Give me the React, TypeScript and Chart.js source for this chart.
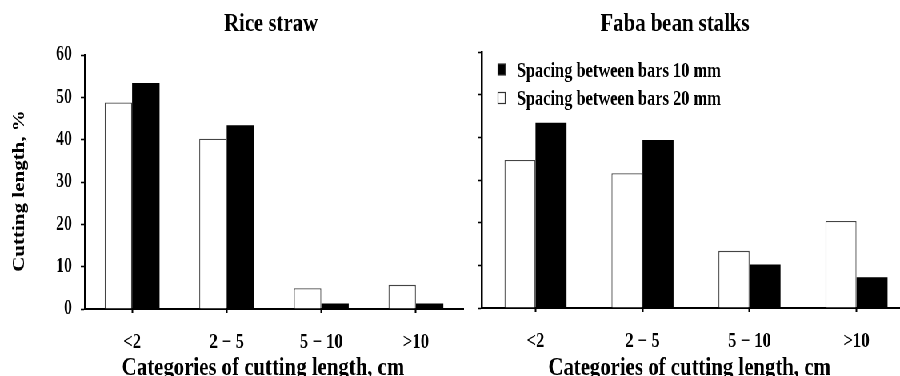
import { useEffect, useRef } from 'react';
import { Chart, registerables } from 'chart.js';

Chart.register(...registerables);

// ---- data ----
const categories = ['<2', '2 − 5', '5 − 10', '>10'];
const seriesLabels = ['Spacing between bars 20 mm', 'Spacing between bars 10 mm'];
const riceStraw20 = [48.8, 40.2, 4.9, 5.7];
const riceStraw10 = [53.4, 43.4, 1.3, 1.3];
const fabaStalks20 = [34.7, 31.6, 13.4, 20.4];
const fabaStalks10 = [43.4, 39.4, 10.2, 7.2];
const yMin = 0;
const yMax = 60;
const yStep = 10;

const panelTitles = ['Rice straw', 'Faba bean stalks'];
const xTitle = 'Categories of cutting length, cm';
const yTitle = 'Cutting length, %';

// the figure is drawn wide and narrowed horizontally, giving condensed lettering
const SQUEEZE = 0.8;
const CANVAS_H = 400;
const FONT = '"Liberation Serif", "Times New Roman", serif';

Chart.defaults.font.family = FONT;
Chart.defaults.color = '#000';

type Caption = { text: string; x: number; y: number; size: number; rotate?: boolean };

function captionPlugin(items: Caption[]) {
  return {
    id: 'captions',
    afterDraw(chart: Chart) {
      const ctx = chart.ctx;
      for (const c of items) {
        ctx.save();
        ctx.font = `bold ${c.size}px ${FONT}`;
        ctx.fillStyle = '#000';
        ctx.textAlign = 'center';
        ctx.textBaseline = 'alphabetic';
        ctx.translate(c.x, c.y);
        if (c.rotate) ctx.rotate(-Math.PI / 2);
        ctx.fillText(c.text, 0, 0);
        ctx.restore();
      }
    },
  };
}

// series key drawn inside the plot, 10 mm first
function keyPlugin(show: boolean) {
  return {
    id: 'barKey',
    afterDraw(chart: Chart) {
      if (!show) return;
      const ctx = chart.ctx;
      const left = chart.chartArea.left;
      const sets = chart.data.datasets.slice().reverse();
      sets.forEach((d: any, i: number) => {
        const rowY = i * 28.5;
        ctx.save();
        ctx.fillStyle = d.backgroundColor;
        ctx.fillRect(left + 20, 64 + rowY, 9, 11);
        ctx.strokeStyle = '#333';
        ctx.lineWidth = 1.2;
        ctx.strokeRect(left + 20, 64 + rowY, 9, 11);
        ctx.font = `bold 20.5px ${FONT}`;
        ctx.fillStyle = '#000';
        ctx.textAlign = 'left';
        ctx.textBaseline = 'alphabetic';
        ctx.fillText(d.label, left + 43.5, 76.5 + rowY);
        ctx.restore();
      });
    },
  };
}

type PanelProps = {
  left: number;
  width: number;
  white: number[];
  black: number[];
  top: number;
  bottom: number;
  axisX: number;
  padRight: number;
  showYLabels: boolean;
  showKey: boolean;
  captions: Caption[];
};

function Panel(p: PanelProps) {
  const ref = useRef<HTMLCanvasElement>(null);

  useEffect(() => {
    const chart = new Chart(ref.current as HTMLCanvasElement, {
      type: 'bar',
      data: {
        labels: categories,
        datasets: [
          {
            label: seriesLabels[0],
            data: p.white,
            backgroundColor: '#ffffff',
            borderColor: '#444444',
            borderWidth: 1.3,
            categoryPercentage: 0.58,
            barPercentage: 1,
          },
          {
            label: seriesLabels[1],
            data: p.black,
            backgroundColor: '#000000',
            borderColor: '#000000',
            borderWidth: 0,
            categoryPercentage: 0.58,
            barPercentage: 1,
          },
        ],
      },
      options: {
        responsive: false,
        animation: false,
        devicePixelRatio: 1,
        layout: { padding: { top: p.top, right: p.padRight, left: 0, bottom: 0 } },
        plugins: {
          legend: { display: false },
          tooltip: { enabled: false },
          title: { display: false },
        },
        scales: {
          x: {
            grid: {
              offset: false,
              drawOnChartArea: false,
              tickLength: 4,
              tickWidth: 2,
              tickColor: '#000',
            },
            border: { color: '#000', width: 2 },
            ticks: { font: { size: 21, weight: 'bold' }, padding: 17, color: '#000' },
            afterFit: (s: any) => {
              s.height = CANVAS_H - p.bottom;
            },
          },
          y: {
            min: yMin,
            max: yMax,
            grid: {
              drawOnChartArea: false,
              tickLength: 5,
              tickWidth: 1.6,
              tickColor: '#000',
            },
            border: { color: '#000', width: 2.5 },
            ticks: {
              stepSize: yStep,
              font: { size: 20, weight: 'bold' },
              padding: 11,
              color: '#000',
              callback: (v: any) => (p.showYLabels ? String(v) : ''),
            },
            afterFit: (s: any) => {
              s.width = p.axisX;
            },
          },
        },
      },
      plugins: [captionPlugin(p.captions), keyPlugin(p.showKey)],
    } as any);
    return () => chart.destroy();
  }, []);

  return (
    <canvas
      ref={ref}
      width={p.width}
      height={CANVAS_H}
      style={{ position: 'absolute', left: p.left, top: 0, width: p.width, height: CANVAS_H }}
    />
  );
}

export default function App() {
  return (
    <div
      style={{
        position: 'fixed',
        left: 0,
        top: 0,
        width: 900,
        height: 376,
        overflow: 'hidden',
        background: '#fff',
      }}
    >
      <div
        style={{
          position: 'absolute',
          left: 0,
          top: 0,
          width: 1150,
          height: CANVAS_H,
          transform: `scaleX(${SQUEEZE})`,
          transformOrigin: '0 0',
        }}
      >
        <Panel
          left={0}
          width={590}
          white={riceStraw20}
          black={riceStraw10}
          top={55}
          bottom={309}
          axisX={106}
          padRight={11}
          showYLabels={true}
          showKey={false}
          captions={[
            { text: panelTitles[0], x: 338.75, y: 31, size: 26 },
            { text: xTitle, x: 328.75, y: 375, size: 26 },
            { text: yTitle, x: 30, y: 191, size: 21, rotate: true },
          ]}
        />
        <Panel
          left={590}
          width={560}
          white={fabaStalks20}
          black={fabaStalks10}
          top={52}
          bottom={308}
          axisX={12.5}
          padRight={12.5}
          showYLabels={false}
          showKey={true}
          captions={[
            { text: panelTitles[1], x: 253.75, y: 31, size: 26 },
            { text: xTitle, x: 271.9, y: 375, size: 26 },
          ]}
        />
      </div>
    </div>
  );
}
